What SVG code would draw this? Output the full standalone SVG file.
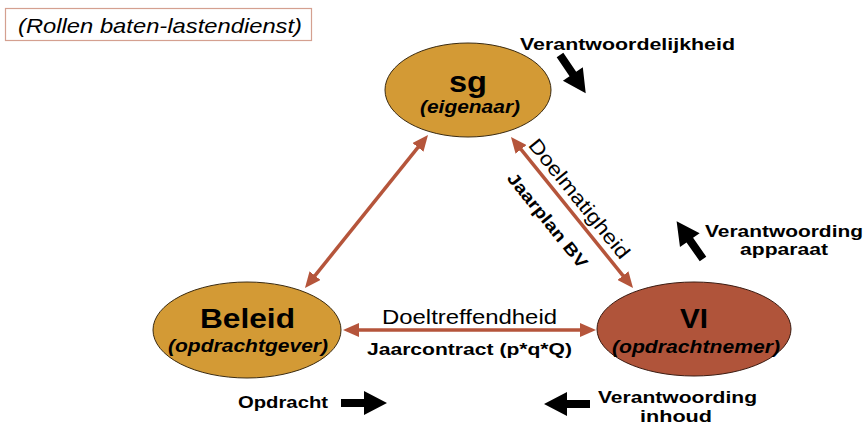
<svg xmlns="http://www.w3.org/2000/svg" width="867" height="426" viewBox="0 0 867 426">
<defs>
<style>
text{font-family:"Liberation Sans",Arial,sans-serif;fill:#000}
.b{font-weight:bold}
.bi{font-weight:bold;font-style:italic}
.gold{fill:#d39a35;stroke:#3a2a10;stroke-width:1}
.red{fill:#b0543a;stroke:#3a1a10;stroke-width:1}
.link{stroke:#b5553b;stroke-width:3.5;fill:none;marker-start:url(#ah);marker-end:url(#ah)}
.blk{fill:#000}
</style>
<marker id="ah" viewBox="0 0 16 14" refX="8" refY="7" markerWidth="16" markerHeight="14" markerUnits="userSpaceOnUse" orient="auto-start-reverse">
<path d="M0,0 L16,7 L0,14 Z" fill="#b5553b"/>
</marker>
<path id="barrow" d="M0,-4 L23,-4 L23,-12 L46,0 L23,12 L23,4 L0,4 Z"/>
</defs>
<rect width="867" height="426" fill="#fff"/>

<g id="title">
<rect x="5.5" y="8.5" width="306" height="32" fill="#fff" stroke="#d4a090" stroke-width="1.2"/>
<text x="18" y="33" font-size="21" font-style="italic" textLength="284" lengthAdjust="spacingAndGlyphs">(Rollen baten-lastendienst)</text>
</g>

<g id="connectors">
<line class="link" x1="310" y1="281.8" x2="423" y2="141.2"/>
<line class="link" x1="516" y1="143.2" x2="628" y2="281.8"/>
<line class="link" x1="351" y1="330" x2="588" y2="330"/>
<text x="382" y="324" font-size="20" textLength="175" lengthAdjust="spacingAndGlyphs">Doeltreffendheid</text>
<text class="b" x="367" y="355" font-size="17" textLength="205" lengthAdjust="spacingAndGlyphs">Jaarcontract (p*q*Q)</text>
<text transform="translate(574,203) rotate(51)" text-anchor="middle" font-size="20" textLength="148" lengthAdjust="spacingAndGlyphs">Doelmatigheid</text>
<text class="b" transform="translate(543,224) rotate(51)" text-anchor="middle" font-size="17" textLength="117" lengthAdjust="spacingAndGlyphs">Jaarplan BV</text>
</g>

<g id="node-sg">
<ellipse class="gold" cx="468" cy="90" rx="83" ry="47"/>
<text class="b" x="468" y="92" font-size="30" text-anchor="middle" textLength="38" lengthAdjust="spacingAndGlyphs">sg</text>
<text class="bi" x="470" y="113" font-size="18" text-anchor="middle" textLength="100" lengthAdjust="spacingAndGlyphs">(eigenaar)</text>
</g>

<g id="node-beleid">
<ellipse class="gold" cx="247" cy="330" rx="94" ry="48"/>
<text class="b" x="247.5" y="328" font-size="27" text-anchor="middle" textLength="95" lengthAdjust="spacingAndGlyphs">Beleid</text>
<text class="bi" x="248" y="352" font-size="19" text-anchor="middle" textLength="160" lengthAdjust="spacingAndGlyphs">(opdrachtgever)</text>
</g>

<g id="node-vi">
<ellipse class="red" cx="694" cy="329" rx="97" ry="47"/>
<text class="b" x="694" y="328" font-size="27" text-anchor="middle" textLength="28" lengthAdjust="spacingAndGlyphs">VI</text>
<text class="bi" x="696" y="353" font-size="19" text-anchor="middle" textLength="168" lengthAdjust="spacingAndGlyphs">(opdrachtnemer)</text>
</g>

<g id="verantwoordelijkheid">
<text class="b" x="520" y="50" font-size="17" textLength="215" lengthAdjust="spacingAndGlyphs">Verantwoordelijkheid</text>
<use href="#barrow" class="blk" transform="translate(560,55) rotate(56)"/>
</g>

<g id="verantwoording-apparaat">
<use href="#barrow" class="blk" transform="translate(703,259) rotate(-125)"/>
<text class="b" x="705" y="237" font-size="17" textLength="158" lengthAdjust="spacingAndGlyphs">Verantwoording</text>
<text class="b" x="740" y="255" font-size="17" textLength="88" lengthAdjust="spacingAndGlyphs">apparaat</text>
</g>

<g id="opdracht">
<text class="b" x="238" y="408" font-size="17" textLength="90" lengthAdjust="spacingAndGlyphs">Opdracht</text>
<use href="#barrow" class="blk" transform="translate(341,403)"/>
</g>

<g id="verantwoording-inhoud">
<use href="#barrow" class="blk" transform="translate(590,404) rotate(180)"/>
<text class="b" x="598" y="403" font-size="17" textLength="159" lengthAdjust="spacingAndGlyphs">Verantwoording</text>
<text class="b" x="640" y="422" font-size="17" textLength="72" lengthAdjust="spacingAndGlyphs">inhoud</text>
</g>
</svg>
